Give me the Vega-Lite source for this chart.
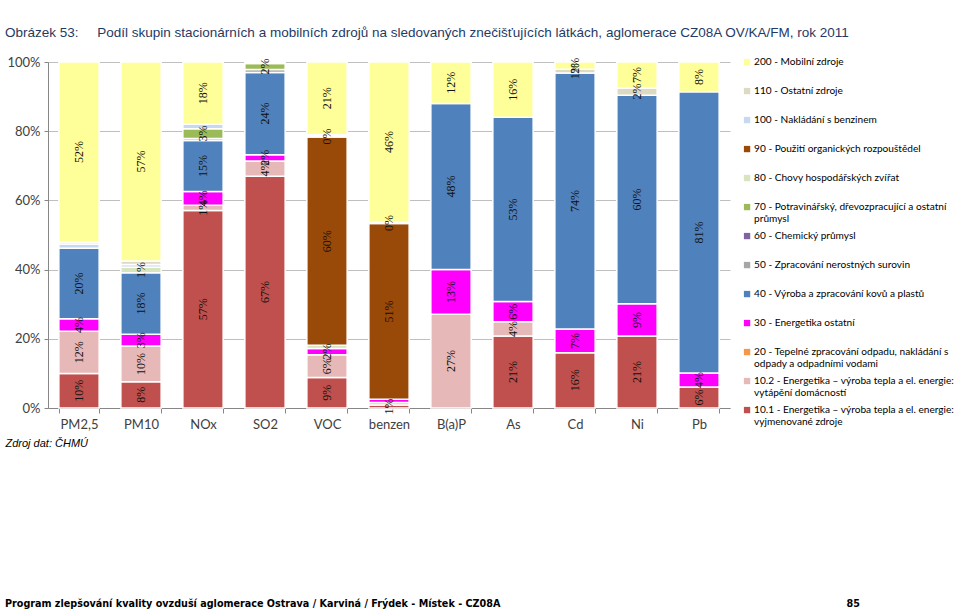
{
  "$schema": "https://vega.github.io/schema/vega-lite/v6.json",
  "background": "white",
  "padding": {"left": 5, "top": 25, "right": 0, "bottom": 0},
  "title": {
    "text": "Obrázek 53:\u00a0\u00a0\u00a0\u00a0\u00a0Podíl skupin stacionárních a mobilních zdrojů na sledovaných znečišťujících látkách, aglomerace CZ08A OV/KA/FM, rok 2011",
    "anchor": "start",
    "font": "Liberation Sans",
    "fontSize": 13.5,
    "fontWeight": "normal",
    "color": "#1F3A64",
    "offset": 17
  },
  "datasets": {
    "src": [
      {"code": 200, "name": "200 - Mobilní zdroje"},
      {"code": 110, "name": "110 - Ostatní zdroje"},
      {"code": 100, "name": "100 - Nakládání s benzinem"},
      {"code": 90, "name": "90 - Použití organických rozpouštědel"},
      {"code": 80, "name": "80 - Chovy hospodářských zvířat"},
      {"code": 70, "name": "70 - Potravinářský, dřevozpracující a ostatní průmysl"},
      {"code": 60, "name": "60 - Chemický průmysl"},
      {"code": 50, "name": "50 - Zpracování nerostných surovin"},
      {"code": 40, "name": "40 - Výroba a zpracování kovů a plastů"},
      {"code": 30, "name": "30 - Energetika ostatní"},
      {"code": 20, "name": "20 - Tepelné zpracování odpadu, nakládání s odpady a odpadními vodami"},
      {"code": 10.2, "name": "10.2 - Energetika – výroba tepla a el. energie: vytápění domácností"},
      {"code": 10.1, "name": "10.1 - Energetika – výroba tepla a el. energie: vyjmenované zdroje"}
    ],
    "seg": [
      {"pol": "PM2,5", "code": 10.1, "v": 10.0, "lab": "10%"},
      {"pol": "PM2,5", "code": 10.2, "v": 12.2, "lab": "12%"},
      {"pol": "PM2,5", "code": 30, "v": 3.6, "lab": "4%"},
      {"pol": "PM2,5", "code": 40, "v": 20.4, "lab": "20%"},
      {"pol": "PM2,5", "code": 100, "v": 1.2, "lab": null},
      {"pol": "PM2,5", "code": 110, "v": 0.6, "lab": null},
      {"pol": "PM2,5", "code": 200, "v": 52.0, "lab": "52%"},

      {"pol": "PM10", "code": 10.1, "v": 7.6, "lab": "8%"},
      {"pol": "PM10", "code": 10.2, "v": 10.3, "lab": "10%"},
      {"pol": "PM10", "code": 30, "v": 3.4, "lab": "3%"},
      {"pol": "PM10", "code": 40, "v": 17.8, "lab": "18%"},
      {"pol": "PM10", "code": 80, "v": 1.6, "lab": "1%"},
      {"pol": "PM10", "code": 100, "v": 0.8, "lab": null},
      {"pol": "PM10", "code": 110, "v": 1.0, "lab": null},
      {"pol": "PM10", "code": 200, "v": 57.5, "lab": "57%"},

      {"pol": "NOx", "code": 10.1, "v": 57.1, "lab": "57%"},
      {"pol": "NOx", "code": 10.2, "v": 1.5, "lab": "1%"},
      {"pol": "NOx", "code": 30, "v": 4.0, "lab": "4%"},
      {"pol": "NOx", "code": 40, "v": 14.7, "lab": "15%"},
      {"pol": "NOx", "code": 50, "v": 0.6, "lab": null},
      {"pol": "NOx", "code": 70, "v": 2.8, "lab": "3%"},
      {"pol": "NOx", "code": 100, "v": 1.3, "lab": null},
      {"pol": "NOx", "code": 200, "v": 18.0, "lab": "18%"},

      {"pol": "SO2", "code": 10.1, "v": 67.0, "lab": "67%"},
      {"pol": "SO2", "code": 10.2, "v": 4.4, "lab": "4%"},
      {"pol": "SO2", "code": 30, "v": 1.8, "lab": "2%"},
      {"pol": "SO2", "code": 40, "v": 23.8, "lab": "24%"},
      {"pol": "SO2", "code": 50, "v": 0.8, "lab": null},
      {"pol": "SO2", "code": 70, "v": 1.8, "lab": "2%"},
      {"pol": "SO2", "code": 110, "v": 0.4, "lab": null},

      {"pol": "VOC", "code": 10.1, "v": 8.8, "lab": "9%"},
      {"pol": "VOC", "code": 10.2, "v": 6.6, "lab": "6%"},
      {"pol": "VOC", "code": 30, "v": 1.8, "lab": "2%"},
      {"pol": "VOC", "code": 80, "v": 0.9, "lab": null},
      {"pol": "VOC", "code": 90, "v": 60.2, "lab": "60%"},
      {"pol": "VOC", "code": 100, "v": 0.3, "lab": "0%"},
      {"pol": "VOC", "code": 110, "v": 0.4, "lab": null},
      {"pol": "VOC", "code": 200, "v": 21.0, "lab": "21%"},

      {"pol": "benzen", "code": 10.1, "v": 0.9, "lab": "1%"},
      {"pol": "benzen", "code": 10.2, "v": 0.7, "lab": null},
      {"pol": "benzen", "code": 30, "v": 0.9, "lab": null},
      {"pol": "benzen", "code": 90, "v": 50.8, "lab": "51%"},
      {"pol": "benzen", "code": 100, "v": 0.4, "lab": "0%"},
      {"pol": "benzen", "code": 200, "v": 46.3, "lab": "46%"},

      {"pol": "B(a)P", "code": 10.2, "v": 27.1, "lab": "27%"},
      {"pol": "B(a)P", "code": 30, "v": 12.9, "lab": "13%"},
      {"pol": "B(a)P", "code": 40, "v": 48.0, "lab": "48%"},
      {"pol": "B(a)P", "code": 200, "v": 12.0, "lab": "12%"},

      {"pol": "As", "code": 10.1, "v": 20.8, "lab": "21%"},
      {"pol": "As", "code": 10.2, "v": 4.1, "lab": "4%"},
      {"pol": "As", "code": 30, "v": 5.9, "lab": "6%"},
      {"pol": "As", "code": 40, "v": 53.2, "lab": "53%"},
      {"pol": "As", "code": 200, "v": 16.0, "lab": "16%"},

      {"pol": "Cd", "code": 10.1, "v": 16.0, "lab": "16%"},
      {"pol": "Cd", "code": 30, "v": 6.8, "lab": "7%"},
      {"pol": "Cd", "code": 40, "v": 74.0, "lab": "74%"},
      {"pol": "Cd", "code": 110, "v": 1.1, "lab": "1%"},
      {"pol": "Cd", "code": 200, "v": 2.1, "lab": "2%"},

      {"pol": "Ni", "code": 10.1, "v": 20.8, "lab": "21%"},
      {"pol": "Ni", "code": 30, "v": 9.3, "lab": "9%"},
      {"pol": "Ni", "code": 40, "v": 60.3, "lab": "60%"},
      {"pol": "Ni", "code": 110, "v": 2.1, "lab": "2%"},
      {"pol": "Ni", "code": 200, "v": 7.5, "lab": "7%"},

      {"pol": "Pb", "code": 10.1, "v": 6.1, "lab": "6%"},
      {"pol": "Pb", "code": 30, "v": 4.0, "lab": "4%"},
      {"pol": "Pb", "code": 40, "v": 81.3, "lab": "81%"},
      {"pol": "Pb", "code": 200, "v": 8.6, "lab": "8%"}
    ]
  },
  "spacing": 150,
  "vconcat": [
    {
      "width": 682,
      "height": 346,
      "data": {"name": "seg"},
      "transform": [
        {"lookup": "code", "from": {"data": {"name": "src"}, "key": "code", "fields": ["name"]}},
        {"stack": "v", "groupby": ["pol"], "sort": [{"field": "code", "order": "ascending"}], "as": ["y0", "y1"]},
        {"calculate": "(datum.y0 + datum.y1) / 2", "as": "ymid"}
      ],
      "encoding": {
        "x": {
          "field": "pol",
          "type": "nominal",
          "sort": ["PM2,5", "PM10", "NOx", "SO2", "VOC", "benzen", "B(a)P", "As", "Cd", "Ni", "Pb"],
          "scale": {"paddingInner": 0.35, "paddingOuter": 0.175},
          "axis": {
            "title": "Zdroj dat: ČHMÚ",
            "titleFont": "Liberation Sans",
            "titleFontStyle": "italic",
            "titleFontWeight": "normal",
            "titleFontSize": 11,
            "titleColor": "#000000",
            "titleAnchor": "start",
            "titleAlign": "left",
            "titleBaseline": "middle",
            "titleX": -43,
            "titleY": 35,
            "labelAngle": 0,
            "labelFont": "Lato",
            "labelFontSize": 13,
            "labelColor": "#404040",
            "labelPadding": 5,
            "domainColor": "#868686",
            "tickColor": "#868686",
            "tickSize": 5,
            "tickBand": "extent"
          }
        }
      },
      "layer": [
        {
          "mark": {"type": "bar", "stroke": "white", "strokeWidth": 1.5},
          "encoding": {
            "y": {
              "field": "y1",
              "type": "quantitative",
              "scale": {"domain": [0, 100]},
              "axis": {
                "title": null,
                "values": [0, 10, 20, 30, 40, 50, 60, 70, 80, 90, 100],
                "labelExpr": "datum.value + '%'",
                "labelFont": "Lato",
                "labelFontSize": 13,
                "labelColor": "#404040",
                "labelPadding": 4,
                "grid": true,
                "gridColor": "#BFBFBF",
                "domainColor": "#868686",
                "tickColor": "#868686",
                "tickSize": 4
              }
            },
            "y2": {"field": "y0"},
            "color": {
              "field": "name",
              "type": "nominal",
              "scale": {
                "domain": [
                  "200 - Mobilní zdroje",
                  "110 - Ostatní zdroje",
                  "100 - Nakládání s benzinem",
                  "90 - Použití organických rozpouštědel",
                  "80 - Chovy hospodářských zvířat",
                  "70 - Potravinářský, dřevozpracující a ostatní průmysl",
                  "60 - Chemický průmysl",
                  "50 - Zpracování nerostných surovin",
                  "40 - Výroba a zpracování kovů a plastů",
                  "30 - Energetika ostatní",
                  "20 - Tepelné zpracování odpadu, nakládání s odpady a odpadními vodami",
                  "10.2 - Energetika – výroba tepla a el. energie: vytápění domácností",
                  "10.1 - Energetika – výroba tepla a el. energie: vyjmenované zdroje"
                ],
                "range": ["#FFFF99", "#DDD9C3", "#C6D9F1", "#9A4A08", "#D7E4BD", "#9BBB59", "#8064A2", "#A6A6A6", "#4F81BD", "#FF00FF", "#F79646", "#E6B9B8", "#C0504D"]
              },
              "legend": {
                "title": null,
                "orient": "none",
                "legendX": 694,
                "legendY": -5,
                "symbolType": "square",
                "symbolSize": 40,
                "symbolStrokeWidth": 0,
                "labelFont": "Lato",
                "labelFontSize": 10.1,
                "labelColor": "#000000",
                "labelLimit": 240,
                "labelOffset": 2,
                "rowPadding": 6,
                "labelExpr": "length(datum.label) > 49 ? [slice(datum.label, 0, lastindexof(slice(datum.label, 0, 49), ' ')), slice(datum.label, lastindexof(slice(datum.label, 0, 49), ' ') + 1)] : [datum.label, '']",
                "encode": {
                  "labels": {"update": {"dy": {"value": 6.25}, "lineHeight": {"value": 12.5}}}
                }
              }
            }
          }
        },
        {
          "transform": [{"filter": "datum.lab != null"}],
          "mark": {"type": "text", "angle": 270, "font": "Liberation Serif", "fontSize": 12, "color": "#111111"},
          "encoding": {
            "y": {"field": "ymid", "type": "quantitative"},
            "text": {"field": "lab"}
          }
        }
      ]
    },
    {
      "width": 812,
      "height": 12,
      "data": {"values": [
        {"t": "Program zlepšování kvality ovzduší aglomerace Ostrava / Karviná / Frýdek - Místek - CZ08A", "part": "left"},
        {"t": "85", "part": "right"}
      ]},
      "encoding": {
        "x": {"field": "part", "type": "nominal", "scale": {"type": "point", "domain": ["left", "right"], "padding": 0}, "axis": null},
        "text": {"field": "t"}
      },
      "layer": [
        {"transform": [{"filter": "datum.part == 'left'"}], "mark": {"type": "text", "align": "left", "dx": -43, "font": "DejaVu Sans Condensed, Liberation Sans, sans-serif", "fontWeight": "bold", "fontSize": 10.7, "color": "#000000"}},
        {"transform": [{"filter": "datum.part == 'right'"}], "mark": {"type": "text", "align": "right", "font": "DejaVu Sans Condensed, Liberation Sans, sans-serif", "fontWeight": "bold", "fontSize": 10.7, "color": "#000000"}}
      ]
    }
  ],
  "config": {"view": {"stroke": null}}
}
